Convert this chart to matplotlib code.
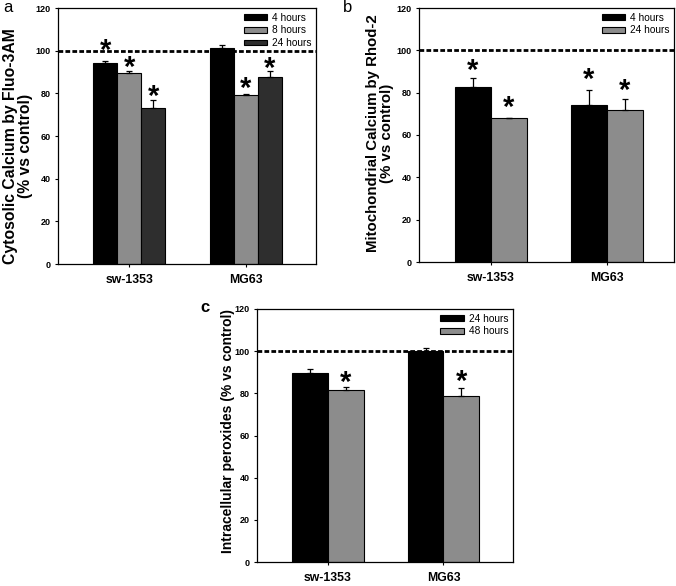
import matplotlib
matplotlib.use("Agg")
import matplotlib.pyplot as plt
import numpy as np

plt.rcParams['font.family'] = ['Liberation Sans', 'DejaVu Sans']

categories = ["sw-1353", "MG63"]

# Panel a
a_series = ["4 hours", "8 hours", "24 hours"]
a_values = [[94.2, 101.1], [89.6, 79.3], [73.1, 87.7]]
a_errors = [[1.0, 1.5], [1.1, 0.5], [4.0, 3.0]]
a_colors = ["#000000", "#8c8c8c", "#2e2e2e"]
a_star = [[103.0, None], [95.0, 85.0], [81.3, 94.5]]

# Panel b
b_series = ["4 hours", "24 hours"]
b_values = [[82.7, 74.2], [67.9, 72.0]]
b_errors = [[4.2, 7.2], [0.3, 5.2]]
b_colors = ["#000000", "#8c8c8c"]
b_star = [[93.2, 89.0], [75.9, 83.8]]

# Panel c
c_series = ["24 hours", "48 hours"]
c_values = [[89.7, 100.0], [81.7, 78.7]]
c_errors = [[2.0, 1.6], [1.5, 3.9]]
c_colors = ["#000000", "#8c8c8c"]
c_star = [[None, None], [87.8, 88.6]]

yticks = [0, 20, 40, 60, 80, 100, 120]

W, H = 676, 586
fig = plt.figure(figsize=(W / 100, H / 100), dpi=100)


def make_ax(l, r, t, b):
    return fig.add_axes([l / W, 1 - b / H, (r - l) / W, (b - t) / H])


def draw(ax, series, values, errors, colors, stars, width, ylabel, xlim,
         ylabfs, labxy):
    n = len(series)
    x = np.arange(len(categories))
    for i in range(n):
        off = (i - (n - 1) / 2) * width
        ax.bar(x + off, values[i], width, color=colors[i], edgecolor="black",
               linewidth=0.8, label=series[i], zorder=2)
        ax.errorbar(x + off, values[i], yerr=[np.zeros(len(categories)), errors[i]],
                    fmt="none", ecolor="black", elinewidth=0.9, capsize=2.5,
                    capthick=0.9, zorder=3)
        for j in range(len(categories)):
            if stars[i][j] is not None:
                ax.text(x[j] + off, stars[i][j] - 3.0, "*", ha="center", va="center",
                        fontsize=21, fontweight="bold", zorder=4)
    ax.axhline(100, color="black", linestyle=(0, (1.7, 0.8)), linewidth=2.0, zorder=1)
    ax.set_ylim(0, 120)
    ax.set_xlim(*xlim)
    ax.set_yticks(yticks)
    ax.set_yticklabels([str(t) for t in yticks], fontsize=6.5, fontweight="bold")
    ax.set_xticks(x)
    ax.set_xticklabels(categories, fontsize=8.8, fontweight="bold")
    ax.tick_params(axis="x", length=2.5, width=0.8, pad=5)
    ax.tick_params(axis="y", length=2.5, width=0.8, pad=3)
    for s in ax.spines.values():
        s.set_linewidth(0.9)
    ax.set_ylabel(ylabel, fontsize=ylabfs, fontweight="bold", linespacing=1.0)
    ax.yaxis.set_label_coords(*labxy)
    ax.legend(loc="upper right", frameon=False, fontsize=7.3, handlelength=2.3,
              handleheight=0.5, handletextpad=0.5, labelspacing=0.27,
              borderaxespad=0.25, borderpad=0.2)


ax_a = make_ax(58, 316, 8, 264)
draw(ax_a, a_series, a_values, a_errors, a_colors, a_star, 0.206,
     "Cytosolic Calcium by Fluo-3AM\n(% vs control)", (-0.61, 1.60), 11.3,
     (-0.097, 0.461))
ax_b = make_ax(419, 674, 8, 262)
draw(ax_b, b_series, b_values, b_errors, b_colors, b_star, 0.31,
     "Mitochondrial Calcium by Rhod-2\n(% vs control)", (-0.618, 1.58), 10.8,
     (-0.098, 0.508))
ax_c = make_ax(257, 513, 309, 562)
draw(ax_c, c_series, c_values, c_errors, c_colors, c_star, 0.31,
     "Intracellular peroxides (% vs control)", (-0.61, 1.60), 10.0,
     (-0.086, 0.518))

fig.text(3 / W, 1 - 8 / H, "a", fontsize=12, va="center", ha="left")
fig.text(343 / W, 1 - 8 / H, "b", fontsize=12, va="center", ha="left")
fig.text(200 / W, 1 - 307 / H, "c", fontsize=12, va="center", ha="left", fontweight="bold")

fig.savefig("out.png", dpi=100, facecolor="white")
